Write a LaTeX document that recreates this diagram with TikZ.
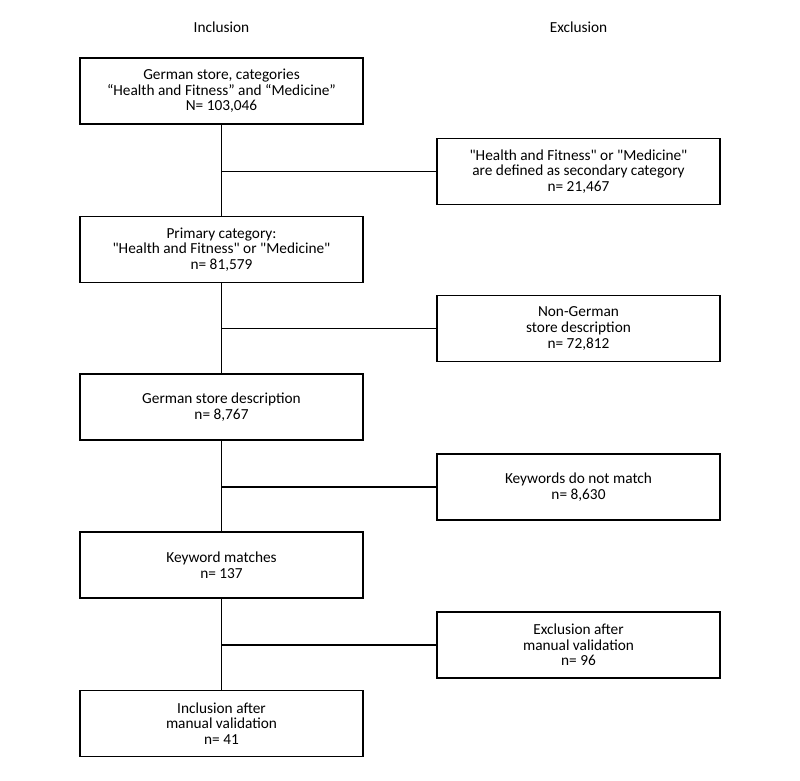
\documentclass[tikz,border=0pt]{standalone}
\usepackage{fontspec}
\setmainfont{Carlito}
\usetikzlibrary{positioning}

\begin{document}
\begin{tikzpicture}[stagebox/.style={
			draw,
			rectangle,
			minimum width=7.075cm,
			minimum height=1.65cm,
			align=center,
			font=\fontsize{10.9}{11.1}\selectfont
		}, line width=0.75pt,
		header/.style={font=\fontsize{10.9}{11.1}\selectfont}]
		\useasboundingbox (0,0) rectangle (20,-19.5);
		\node[header] (inc) at (5.5375,-0.675) {Inclusion};
		\node[header] (exc) at (14.4625,-0.675) {Exclusion};
		
		\node[stagebox] (store) at (5.5375,-2.275) {German store, categories\\``Health and Fitness'' and ``Medicine''\\N= 103,046};
		\node[stagebox] (primary) at (5.5375,-6.2375) {Primary category:\\\textquotedbl Health and Fitness\textquotedbl{} or \textquotedbl Medicine\textquotedbl\\n= 81,579};
		\node[stagebox] (german) at (5.5375,-10.175) {German store description\\n= 8,767};
		\node[stagebox] (keyword) at (5.5375,-14.125) {Keyword matches\\n= 137};
		\node[stagebox] (final) at (5.5375,-18.0875) {Inclusion after\\manual validation\\n= 41};
		
		\node[stagebox] (secondary) at (14.4625,-4.2875) {\textquotedbl Health and Fitness\textquotedbl{} or \textquotedbl Medicine\textquotedbl\\are defined as secondary category\\n= 21,467};
		\node[stagebox] (nongerman) at (14.4625,-8.2125) {Non-German\\store description\\n= 72,812};
		\node[stagebox] (nomatch) at (14.4625,-12.175) {Keywords do not match\\n= 8,630};
		\node[stagebox] (manual) at (14.4625,-16.125) {Exclusion after\\manual validation\\n= 96};
		
		\draw (store.south) -- (primary.north);
		\draw (primary.south) -- (german.north);
		\draw (german.south) -- (keyword.north);
		\draw (keyword.south) -- (final.north);
		
		\draw (store.south |- secondary.west) -- (secondary.west);
		\draw (primary.south |- nongerman.west) -- (nongerman.west);
		\draw (german.south |- nomatch.west) -- (nomatch.west);
		\draw (keyword.south |- manual.west) -- (manual.west);
	\end{tikzpicture}
\end{document}
